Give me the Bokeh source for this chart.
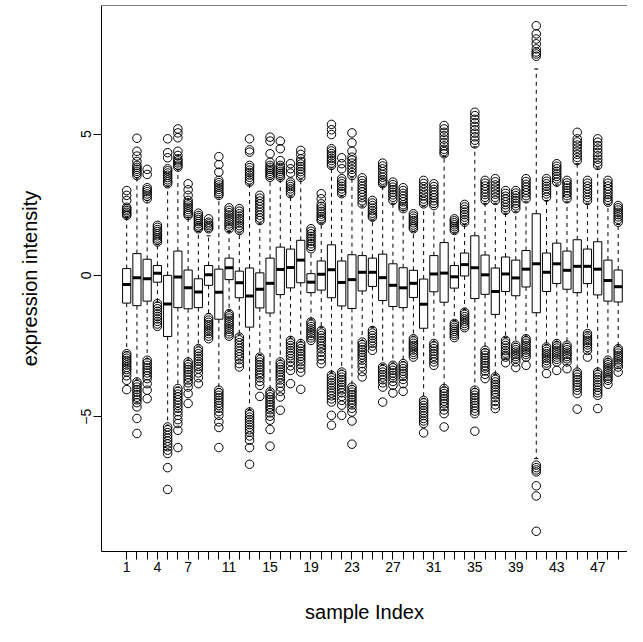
from bokeh.plotting import figure
from bokeh.models import Range1d, FixedTicker, Span
from bokeh.embed import file_html
from bokeh.resources import INLINE

sample_index = list(range(1, 50))
labeled_ticks = [1, 4, 7, 11, 15, 19, 23, 27, 31, 35, 39, 43, 47]
y_ticks = [-5, 0, 5]

q3 = [0.24, 0.77, 0.57, 0.35, 0.00, 0.86, 0.19, -0.12, 0.35, 0.22,
      0.61, 0.15, 0.26, 0.09, 0.61, 1.00, 0.93, 1.24, 0.06, 0.51,
      1.08, 0.51, 0.73, 0.70, 0.61, 0.75, 0.41, 0.27, 0.18,
      -0.13, 0.70, 1.16, 0.35, 0.79, 1.40, 0.72, 0.26, 0.65, 0.54,
      0.88, 2.18, 0.79, 1.14, 0.86, 1.26, 0.93, 1.19, 0.54, 0.19]
median = [-0.32, -0.08, -0.12, 0.08, -1.01, -0.06, -0.44, -0.59, 0.02, -0.60,
          0.27, -0.26, -0.73, -0.49, -0.28, 0.21, 0.28, 0.54, -0.24, 0.04,
          0.20, -0.25, -0.15, 0.11, 0.11, -0.08, -0.35, -0.44, -0.28,
          -1.02, 0.05, 0.08, -0.05, 0.38, 0.27, 0.02, -0.57, 0.05, -0.09,
          0.22, 0.41, 0.11, 0.41, 0.18, 0.32, 0.32, 0.22, -0.18, -0.40]
q1 = [-0.98, -1.07, -0.91, -0.24, -2.16, -1.14, -1.18, -1.14, -0.35, -1.55,
      -0.15, -0.79, -1.83, -1.15, -1.33, -0.68, -0.44, -0.26, -0.61, -0.52,
      -0.79, -1.08, -1.17, -0.55, -0.39, -0.89, -1.10, -1.14, -0.78,
      -1.87, -0.58, -0.95, -0.45, -0.02, -0.82, -0.67, -1.38, -0.57, -0.72,
      -0.41, -1.32, -0.57, -0.29, -0.49, -0.61, -0.29, -0.69, -0.91, -0.94]
whisker_high = [2.05, 3.45, 2.65, 1.10, 3.15, 3.75, 2.05, 1.55, 1.40, 2.75,
                1.55, 1.50, 3.20, 1.85, 3.40, 3.40, 2.80, 3.40, 0.88, 1.85,
                3.80, 2.80, 3.45, 2.45, 1.95, 3.15, 2.55, 2.30, 1.55,
                2.45, 2.40, 4.20, 1.50, 1.80, 4.55, 2.55, 2.55, 2.20, 2.25,
                2.60, 7.30, 2.65, 3.20, 2.60, 3.95, 2.55, 3.80, 2.50, 1.80]
whisker_low = [-2.70, -3.70, -2.95, -0.95, -5.30, -3.95, -3.00, -2.50, -1.35, -4.00,
               -1.25, -2.10, -4.75, -2.80, -4.05, -3.00, -2.22, -2.35, -1.55, -1.85,
               -3.45, -3.35, -3.90, -2.30, -1.85, -3.15, -3.10, -3.05, -2.15,
               -4.35, -2.35, -3.95, -1.60, -1.20, -4.00, -2.60, -3.50, -2.20, -2.40,
               -2.15, -6.48, -2.45, -2.35, -2.40, -3.35, -2.00, -3.35, -2.95, -2.50]

outliers_high = [
    [3.00, 2.83, 2.65, 2.41, 2.35, 2.29, 2.23, 2.17, 2.12],
    [4.85, 4.39, 4.22, 4.03, 3.89, 3.82, 3.75, 3.68, 3.61, 3.53],
    [3.75, 3.57, 3.10, 3.03, 2.96, 2.88, 2.80, 2.71],
    [1.77, 1.70, 1.62, 1.55, 1.47, 1.40, 1.32, 1.25, 1.18],
    [4.83, 4.34, 4.16, 3.77, 3.70, 3.62, 3.54, 3.46, 3.38, 3.31, 3.24],
    [5.18, 5.04, 4.87, 4.39, 4.24, 4.12, 4.05, 3.98, 3.90, 3.83],
    [3.24, 3.03, 2.83, 2.65, 2.57, 2.49, 2.41, 2.33, 2.25, 2.18, 2.12],
    [2.20, 2.12, 2.05, 1.98, 1.90, 1.83, 1.75, 1.70, 1.65],
    [2.00, 1.88, 1.82, 1.76, 1.70, 1.65],
    [4.20, 3.92, 3.65, 3.36, 3.28, 3.20, 3.12, 3.04, 2.96, 2.89, 2.83],
    [2.39, 2.30, 2.22, 2.14, 2.06, 1.98, 1.90, 1.82, 1.74, 1.65],
    [2.36, 2.27, 2.18, 2.10, 2.01, 1.93, 1.85, 1.76, 1.68, 1.59],
    [4.83, 4.44, 4.36, 3.89, 3.81, 3.72, 3.64, 3.55, 3.47, 3.38, 3.30],
    [2.83, 2.73, 2.63, 2.53, 2.43, 2.33, 2.23, 2.13, 2.03, 1.94],
    [4.89, 4.75, 4.30, 4.00, 3.89, 3.82, 3.75, 3.68, 3.61, 3.54, 3.47],
    [4.75, 4.48, 4.06, 3.89, 3.82, 3.75, 3.68, 3.61, 3.54, 3.47],
    [3.95, 3.77, 3.62, 3.30, 3.22, 3.14, 3.06, 2.98, 2.89],
    [4.42, 4.28, 4.12, 4.03, 3.94, 3.85, 3.76, 3.67, 3.58, 3.47],
    [1.65, 1.56, 1.47, 1.38, 1.30, 1.21, 1.12, 1.03, 0.94],
    [2.89, 2.71, 2.53, 2.44, 2.35, 2.26, 2.17, 2.08, 2.00, 1.94],
    [5.34, 5.15, 4.98, 4.48, 4.40, 4.31, 4.23, 4.14, 4.06, 3.97, 3.89],
    [4.16, 3.95, 3.77, 3.42, 3.33, 3.24, 3.15, 3.06, 2.97, 2.89],
    [5.04, 4.69, 4.39, 4.18, 4.08, 3.97, 3.86, 3.75, 3.64, 3.53],
    [3.45, 3.35, 3.25, 3.15, 3.05, 2.95, 2.85, 2.75, 2.64, 2.53],
    [2.65, 2.56, 2.47, 2.38, 2.29, 2.20, 2.13, 2.06],
    [3.97, 3.87, 3.77, 3.67, 3.57, 3.47, 3.37, 3.30, 3.24],
    [3.30, 3.21, 3.12, 3.03, 2.94, 2.85, 2.76, 2.65],
    [3.10, 3.00, 2.90, 2.80, 2.70, 2.60, 2.50, 2.43, 2.36],
    [2.18, 2.10, 2.02, 1.94, 1.86, 1.78, 1.71, 1.65],
    [3.36, 3.25, 3.14, 3.03, 2.92, 2.81, 2.70, 2.61, 2.53],
    [3.24, 3.14, 3.04, 2.94, 2.84, 2.74, 2.64, 2.55, 2.47],
    [5.30, 5.18, 5.06, 4.94, 4.82, 4.70, 4.58, 4.46, 4.38, 4.30],
    [2.00, 1.93, 1.86, 1.79, 1.72, 1.65, 1.59],
    [2.51, 2.42, 2.33, 2.24, 2.15, 2.06, 1.97, 1.88],
    [5.77, 5.65, 5.52, 5.40, 5.27, 5.15, 5.03, 4.90, 4.78, 4.65],
    [3.36, 3.26, 3.16, 3.06, 2.96, 2.86, 2.76, 2.65],
    [3.42, 3.31, 3.20, 3.09, 2.98, 2.87, 2.76, 2.65],
    [3.00, 2.90, 2.80, 2.70, 2.60, 2.50, 2.40, 2.30],
    [3.00, 2.91, 2.82, 2.73, 2.64, 2.55, 2.46, 2.36],
    [3.42, 3.32, 3.22, 3.12, 3.02, 2.92, 2.82, 2.71],
    [8.83, 8.54, 8.36, 8.19, 8.01, 7.90, 7.83, 7.75],
    [3.42, 3.33, 3.24, 3.15, 3.06, 2.97, 2.88, 2.77],
    [3.95, 3.86, 3.77, 3.68, 3.59, 3.50, 3.41, 3.30],
    [3.36, 3.27, 3.18, 3.09, 3.00, 2.91, 2.82, 2.71],
    [5.06, 4.83, 4.72, 4.61, 4.50, 4.39, 4.28, 4.17, 4.06],
    [3.36, 3.26, 3.16, 3.06, 2.96, 2.86, 2.76, 2.65],
    [4.83, 4.71, 4.59, 4.47, 4.35, 4.23, 4.11, 4.00, 3.89],
    [3.36, 3.26, 3.16, 3.06, 2.96, 2.86, 2.76, 2.67, 2.59],
    [2.47, 2.39, 2.31, 2.23, 2.15, 2.07, 1.98, 1.88],
]

outliers_low = [
    [-2.77, -2.85, -2.93, -3.01, -3.09, -3.17, -3.25, -3.33, -3.42, -3.55, -3.71, -4.04],
    [-3.77, -3.86, -3.95, -4.04, -4.13, -4.22, -4.31, -4.40, -4.50, -4.65, -5.06, -5.59],
    [-3.00, -3.09, -3.18, -3.27, -3.36, -3.45, -3.55, -3.65, -3.83, -4.06, -4.36],
    [-1.00, -1.09, -1.18, -1.27, -1.36, -1.45, -1.54, -1.63, -1.72, -1.80],
    [-5.36, -5.46, -5.56, -5.66, -5.76, -5.86, -5.96, -6.06, -6.18, -6.30, -6.80, -7.57],
    [-4.00, -4.10, -4.20, -4.30, -4.40, -4.50, -4.60, -4.70, -4.82, -4.95, -5.10, -5.24, -5.48, -6.09],
    [-3.06, -3.15, -3.24, -3.33, -3.42, -3.51, -3.60, -3.70, -3.80, -3.95, -4.18, -4.53],
    [-2.59, -2.68, -2.77, -2.86, -2.95, -3.04, -3.13, -3.22, -3.31, -3.45, -3.62, -3.83],
    [-1.50, -1.58, -1.66, -1.74, -1.82, -1.90, -1.98, -2.06, -2.15, -2.24],
    [-4.06, -4.15, -4.24, -4.33, -4.42, -4.51, -4.60, -4.70, -4.82, -4.95, -5.18, -5.38, -6.09],
    [-1.35, -1.43, -1.51, -1.59, -1.67, -1.75, -1.83, -1.91, -1.99, -2.07, -2.15],
    [-2.18, -2.28, -2.38, -2.48, -2.58, -2.68, -2.78, -2.88, -2.98, -3.12, -3.24],
    [-4.83, -4.92, -5.01, -5.10, -5.19, -5.28, -5.37, -5.46, -5.55, -5.68, -5.83, -6.09, -6.68],
    [-2.89, -2.98, -3.07, -3.16, -3.25, -3.34, -3.43, -3.52, -3.62, -3.75, -3.89, -4.28],
    [-4.12, -4.21, -4.30, -4.39, -4.48, -4.57, -4.66, -4.75, -4.86, -4.98, -5.12, -5.45, -6.04],
    [-3.06, -3.15, -3.24, -3.33, -3.42, -3.51, -3.60, -3.70, -3.82, -3.95, -4.10, -4.30, -4.77],
    [-2.30, -2.39, -2.48, -2.57, -2.66, -2.75, -2.84, -2.94, -3.05, -3.20, -3.36, -3.83],
    [-2.41, -2.50, -2.59, -2.68, -2.77, -2.86, -2.95, -3.05, -3.15, -3.28, -3.42, -4.03],
    [-1.65, -1.73, -1.81, -1.89, -1.97, -2.05, -2.13, -2.21, -2.30],
    [-1.95, -2.04, -2.13, -2.22, -2.31, -2.40, -2.50, -2.60, -2.72, -2.85, -2.98, -3.12],
    [-3.53, -3.62, -3.71, -3.80, -3.89, -3.98, -4.07, -4.16, -4.26, -4.37, -4.48, -4.95, -5.30],
    [-3.42, -3.51, -3.60, -3.69, -3.78, -3.87, -3.96, -4.05, -4.15, -4.28, -4.42, -4.59, -4.95],
    [-3.95, -4.04, -4.13, -4.22, -4.31, -4.40, -4.49, -4.58, -4.70, -4.83, -5.15, -5.97],
    [-2.36, -2.45, -2.54, -2.63, -2.72, -2.81, -2.90, -3.00, -3.12, -3.24, -3.40, -3.59],
    [-1.95, -2.04, -2.13, -2.22, -2.31, -2.40, -2.50, -2.65],
    [-3.24, -3.33, -3.42, -3.51, -3.60, -3.69, -3.80, -3.95, -4.48],
    [-3.18, -3.27, -3.36, -3.45, -3.54, -3.63, -3.75, -3.89, -4.16],
    [-3.12, -3.21, -3.30, -3.39, -3.48, -3.57, -3.68, -3.83, -4.10],
    [-2.24, -2.32, -2.40, -2.48, -2.56, -2.64, -2.72, -2.80, -2.89],
    [-4.42, -4.51, -4.60, -4.69, -4.78, -4.87, -4.96, -5.06, -5.15, -5.24, -5.57],
    [-2.41, -2.50, -2.59, -2.68, -2.77, -2.86, -2.96, -3.06, -3.18],
    [-4.00, -4.09, -4.18, -4.27, -4.36, -4.45, -4.54, -4.64, -4.76, -4.89, -5.36],
    [-1.70, -1.77, -1.84, -1.91, -1.98, -2.05, -2.12, -2.20],
    [-1.30, -1.38, -1.46, -1.54, -1.62, -1.70, -1.78, -1.85],
    [-4.06, -4.15, -4.24, -4.33, -4.42, -4.51, -4.60, -4.70, -4.80, -4.89, -5.51],
    [-2.65, -2.74, -2.83, -2.92, -3.01, -3.10, -3.19, -3.28, -3.38, -3.50, -3.65],
    [-3.59, -3.68, -3.77, -3.86, -3.95, -4.04, -4.13, -4.22, -4.32, -4.45, -4.58, -4.71],
    [-2.30, -2.39, -2.48, -2.57, -2.66, -2.75, -2.83, -2.89, -3.09],
    [-2.47, -2.55, -2.63, -2.71, -2.79, -2.87, -2.95, -3.06, -3.26],
    [-2.24, -2.32, -2.40, -2.48, -2.56, -2.64, -2.72, -2.80, -2.89, -3.18],
    [-6.71, -6.80, -6.88, -6.95, -7.44, -7.80, -9.05],
    [-2.53, -2.61, -2.69, -2.77, -2.85, -2.93, -3.01, -3.10, -3.18, -3.47],
    [-2.41, -2.49, -2.57, -2.65, -2.73, -2.81, -2.89, -2.97, -3.06, -3.36],
    [-2.47, -2.55, -2.63, -2.71, -2.79, -2.87, -2.95, -3.06, -3.30],
    [-3.42, -3.51, -3.60, -3.69, -3.78, -3.87, -3.96, -4.06, -4.18, -4.73],
    [-2.06, -2.14, -2.22, -2.30, -2.38, -2.46, -2.55, -2.65, -2.89],
    [-3.42, -3.51, -3.60, -3.69, -3.78, -3.87, -3.96, -4.06, -4.15, -4.24, -4.71],
    [-3.00, -3.08, -3.16, -3.24, -3.32, -3.40, -3.48, -3.56, -3.64, -3.71, -3.85],
    [-2.59, -2.67, -2.75, -2.83, -2.91, -2.99, -3.07, -3.15, -3.24, -3.42],
]

BOX_W = 0.8
STAPLE_W = 0.4
FONT = "Liberation Sans"
Y_TOP = 9.545

p = figure(width=627, height=626, output_backend="svg", toolbar_location=None,
           x_range=Range1d(-1.46, 49.91), y_range=Range1d(-9.765, Y_TOP),
           min_border_left=101, min_border_right=0, min_border_top=5, min_border_bottom=75,
           x_axis_label="sample Index", y_axis_label="expression intensity",
           background_fill_color="white", border_fill_color="white")

p.xgrid.visible = False
p.ygrid.visible = False
p.outline_line_color = None
p.add_layout(Span(location=Y_TOP, dimension="width", line_color="black", line_width=1))

# whiskers
p.segment(x0=sample_index, y0=q3, x1=sample_index, y1=whisker_high,
          line_color="black", line_width=1, line_dash="4 4")
p.segment(x0=sample_index, y0=q1, x1=sample_index, y1=whisker_low,
          line_color="black", line_width=1, line_dash="4 4")
# staples
sl = [i - STAPLE_W / 2 for i in sample_index]
sr = [i + STAPLE_W / 2 for i in sample_index]
p.segment(x0=sl, y0=whisker_high, x1=sr, y1=whisker_high, line_color="black", line_width=1)
p.segment(x0=sl, y0=whisker_low, x1=sr, y1=whisker_low, line_color="black", line_width=1)
# boxes
p.vbar(x=sample_index, width=BOX_W, top=q3, bottom=q1,
       fill_color="white", line_color="black", line_width=1)
# medians
ml = [i - BOX_W / 2 for i in sample_index]
mr = [i + BOX_W / 2 for i in sample_index]
p.segment(x0=ml, y0=median, x1=mr, y1=median, line_color="black", line_width=3)

# outliers
ox, oy = [], []
for i, hi, lo in zip(sample_index, outliers_high, outliers_low):
    for v in hi + lo:
        ox.append(i)
        oy.append(v)
p.scatter(ox, oy, marker="circle", size=8.5, fill_color=None,
          line_color="black", line_width=1)

for ax in (p.xaxis[0], p.yaxis[0]):
    ax.axis_line_color = "black"
    ax.major_tick_line_color = "black"
    ax.major_tick_in = 0
    ax.major_tick_out = 8
    ax.minor_tick_line_color = None
    ax.major_label_text_font = FONT
    ax.major_label_text_font_size = "14px"
    ax.major_label_text_color = "black"
    ax.major_label_standoff = 2
    ax.axis_label_text_font = FONT
    ax.axis_label_text_font_size = "20px"
    ax.axis_label_text_font_style = "normal"
    ax.axis_label_text_color = "black"

p.xaxis.ticker = FixedTicker(ticks=sample_index)
p.xaxis.major_label_overrides = {i: (str(i) if i in labeled_ticks else "") for i in sample_index}
p.xaxis.axis_label_standoff = 26

p.yaxis.ticker = FixedTicker(ticks=y_ticks)
p.yaxis.major_label_overrides = {t: str(t).replace("-", "\u2212") for t in y_ticks}
p.yaxis.major_label_orientation = "parallel"
p.yaxis.axis_label_standoff = 38

open("out.html", "w").write(file_html(p, INLINE))
